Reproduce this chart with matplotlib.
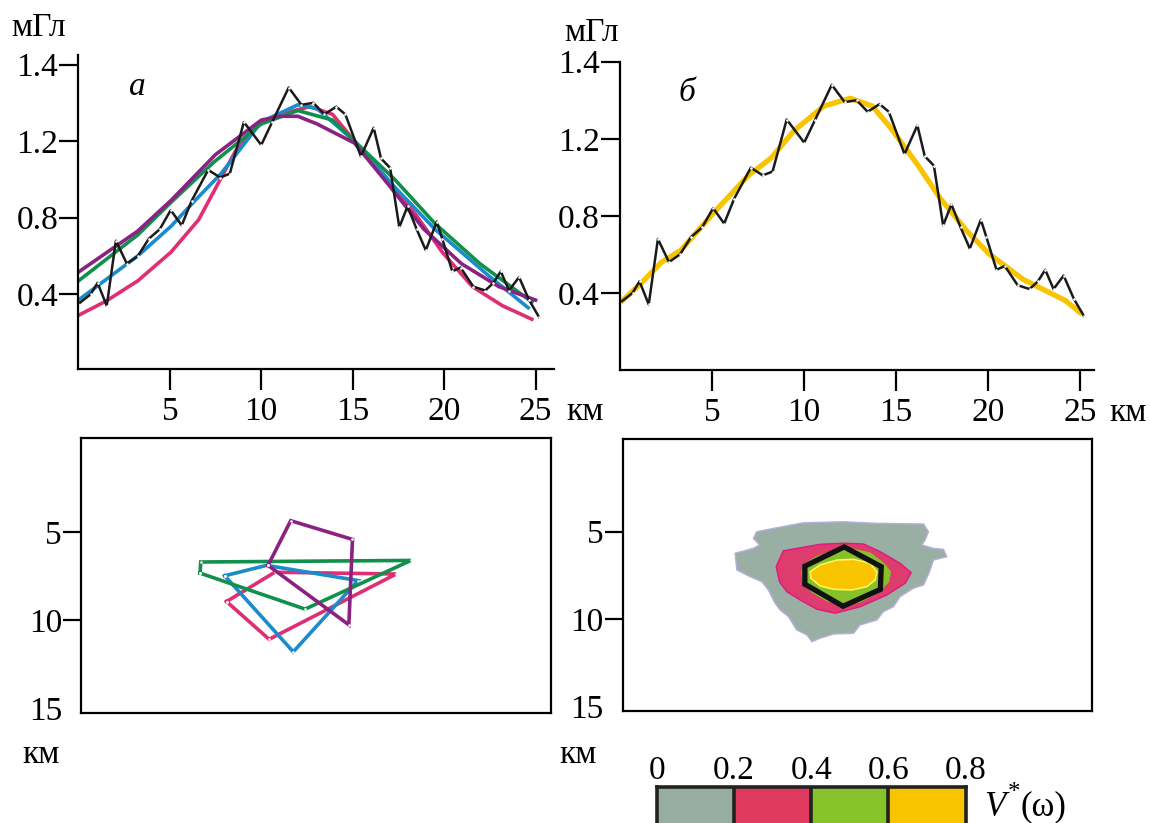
import numpy as np
import matplotlib
matplotlib.use('Agg')
import matplotlib.pyplot as plt

plt.rcParams['font.family'] = ['Liberation Serif', 'DejaVu Serif']

# observed gravity profile (same in both panels), mGal
obs_x = [0, 0.67, 1.05, 1.55, 2.05, 2.65, 3.25, 3.85, 4.45, 5.05, 5.65, 6.2, 7.1, 7.75,
         8.28, 9.05, 10.0, 10.6, 11.5, 12.2, 12.85, 13.45, 14.1, 14.6, 15.45, 16.15, 16.55,
         17.05, 17.55, 18.0, 18.5, 19.0, 19.6, 19.9, 20.45, 20.9, 21.6, 22.25, 22.7, 23.1,
         23.55, 24.1, 24.65, 25.2]
obs_y = [0.35, 0.40, 0.46, 0.34, 0.68, 0.56, 0.60, 0.69, 0.74, 0.84, 0.76, 0.89, 1.05, 1.01,
         1.03, 1.30, 1.18, 1.30, 1.48, 1.39, 1.40, 1.34, 1.38, 1.34, 1.12, 1.27, 1.11,
         1.06, 0.75, 0.86, 0.74, 0.63, 0.78, 0.69, 0.52, 0.54, 0.44, 0.42, 0.46, 0.52,
         0.42, 0.49, 0.37, 0.28]

# model fields, panel a
pink_x = [0, 1.52, 3.24, 5.06, 6.58, 8.6, 9.8, 11.0, 12.65, 13.9, 15.1, 16.9, 18.5, 19.9, 21.55, 23.2, 24.8]
pink_y = [0.29, 0.365, 0.47, 0.62, 0.79, 1.15, 1.28, 1.34, 1.38, 1.34, 1.20, 1.0, 0.81, 0.62, 0.44, 0.34, 0.27]
blue_x = [0, 3.24, 5.06, 6.58, 7.8, 10.0, 12.0, 13.05, 15.1, 17.3, 19.5, 22.4, 24.6]
blue_y = [0.37, 0.60, 0.755, 0.91, 1.03, 1.30, 1.39, 1.37, 1.20, 0.96, 0.74, 0.50, 0.33]
green_x = [0, 3.24, 5.06, 7.4, 10.0, 12.0, 13.9, 15.1, 17.3, 19.5, 21.96, 24.8]
green_y = [0.47, 0.71, 0.88, 1.09, 1.29, 1.36, 1.31, 1.20, 1.0, 0.77, 0.56, 0.36]
purple_x = [0, 3.24, 5.06, 7.5, 10.0, 11.0, 12.0, 13.05, 15.1, 16.9, 18.9, 20.95, 23.0, 25.0]
purple_y = [0.516, 0.73, 0.89, 1.13, 1.31, 1.33, 1.33, 1.29, 1.19, 0.98, 0.74, 0.56, 0.44, 0.37]

# averaged field, panel b
yel_x = [0, 1.13, 2.25, 3.28, 5.12, 6.97, 8.2, 9.43, 11.07, 12.5, 13.7, 14.75, 16.2, 17.4,
         18.85, 20.08, 21.9, 24.2, 25.1]
yel_y = [0.35, 0.45, 0.56, 0.62, 0.82, 1.01, 1.10, 1.24, 1.37, 1.41, 1.37, 1.25, 1.06, 0.89,
         0.72, 0.60, 0.47, 0.36, 0.29]

# body cross-sections (x km, depth km)
pink_poly = [(7.99, 8.95), (10.63, 7.29), (17.27, 7.39), (10.32, 11.09)]
blue_poly = [(7.89, 7.49), (10.18, 6.9), (15.18, 7.76), (11.64, 11.8)]
green_poly = [(6.54, 7.34), (6.58, 6.71), (18.08, 6.62), (12.29, 9.38)]
purple_poly = [(10.26, 6.9), (11.5, 4.37), (14.88, 5.43), (14.68, 10.27)]

# V*(w) levels
lev0 = [(6.19, 6.23), (7.19, 5.95), (7.52, 5.76), (7.19, 5.38), (7.37, 5.0), (8.28, 4.81),
        (9.91, 4.49), (12.09, 4.43), (13.91, 4.52), (16.45, 4.56), (16.72, 5.0), (16.54, 5.47),
        (16.36, 5.76), (16.99, 5.95), (17.54, 6.01), (17.72, 6.43), (16.99, 6.62), (16.78, 7.29),
        (16.45, 8.05), (15.9, 8.23), (15.18, 8.71), (14.81, 9.29), (14.27, 9.57), (13.91, 10.05),
        (13.0, 10.33), (12.64, 10.81), (11.55, 10.85), (10.82, 11.09), (10.37, 11.29), (10.1, 10.9),
        (9.55, 10.62), (9.1, 9.86), (8.64, 9.47), (8.37, 9.09), (8.0, 8.33), (7.65, 7.86),
        (7.01, 7.57), (6.29, 7.19)]
lev1 = [(8.82, 6.09), (10.82, 5.72), (12.09, 5.66), (13.18, 5.70), (14.09, 6.14), (15.18, 6.81),
        (15.78, 7.34), (15.45, 7.95), (14.45, 8.62), (13.0, 9.29), (11.64, 9.66), (10.64, 9.43),
        (9.73, 8.9), (9.01, 8.43), (8.61, 7.86), (8.43, 7.0)]
lev2 = [(9.91, 6.9), (10.64, 6.43), (11.55, 6.14), (12.64, 6.01), (13.55, 6.23), (14.27, 6.81),
        (14.64, 7.29), (14.54, 7.86), (13.91, 8.52), (13.0, 9.0), (12.09, 9.19), (11.19, 8.94),
        (10.37, 8.43), (9.91, 7.86), (9.83, 7.38)]
lev3 = [(10.28, 7.29), (10.82, 6.9), (11.73, 6.62), (12.64, 6.58), (13.55, 6.81), (13.91, 7.29),
        (13.82, 7.76), (13.37, 8.14), (12.55, 8.33), (11.55, 8.29), (10.82, 8.1), (10.32, 7.66)]
hexagon = [(12.13, 5.87), (14.15, 7.0), (14.1, 8.3), (12.07, 9.26), (9.99, 8.0), (9.99, 6.97)]

cbar_bounds = [0, 0.2, 0.4, 0.6, 0.8]
cbar_colors = ['#98ADA2', '#DE3A60', '#86C22A', '#F8C400']

FS = 24
W, H = 1150, 823
PT = 0.72  # points per pixel at dpi 100


def box(l, t, r, b):
    return [l / W, 1 - b / H, (r - l) / W, (b - t) / H]


def profile_axes(rect, ylim):
    ax = fig.add_axes(rect)
    ax.set_xlim(0, 26)
    ax.set_ylim(*ylim)
    for s in ['top', 'right']:
        ax.spines[s].set_visible(False)
    for s in ['left', 'bottom']:
        ax.spines[s].set_linewidth(1.6)
    ax.set_xticks([5, 10, 15, 20, 25])
    ax.set_yticks([0.4, 0.8, 1.2, 1.6])
    ax.set_yticklabels(['0.4', '0.8', '1.2', '1.4'])
    ax.tick_params(direction='out', length=19 * PT, width=1.6, labelsize=FS, pad=1)
    ax.tick_params(axis='x', length=21 * PT, pad=5)
    return ax


def section_axes(rect, ticklen):
    ax = fig.add_axes(rect)
    ax.set_xlim(0.05, 25.75)
    ax.set_ylim(15.25, -0.3)
    for s in ax.spines.values():
        s.set_linewidth(1.6)
    ax.set_xticks([])
    ax.set_yticks([5, 10, 15])
    ax.tick_params(axis='y', direction='out', length=ticklen * PT, width=1.6,
                   labelsize=FS, pad=1)
    ax.yaxis.get_major_ticks()[2].tick1line.set_visible(False)
    return ax


fig = plt.figure(figsize=(W / 100, H / 100), dpi=100)

# panel a, profiles
ax1 = profile_axes(box(78.4, 55, 553.8, 369), (0.01, 1.65))
ax1.plot(pink_x, pink_y, color='#DF2E74', lw=2.6)
ax1.plot(blue_x, blue_y, color='#1B8BCB', lw=2.6)
ax1.plot(green_x, green_y, color='#10904A', lw=2.6)
ax1.plot(purple_x, purple_y, color='#8B2281', lw=2.6)
ax1.plot(obs_x, obs_y, color='#1a1a1a', lw=1.8, marker='o', ms=0.9,
         mfc='white', mec='white')
ax1.text(0.125, 0.9, 'а', transform=ax1.transAxes, fontsize=FS, style='italic',
         ha='center', va='center')

# panel b, profiles
ax2 = profile_axes(box(620.2, 61.7, 1094.2, 370), (0.0, 1.6))
ax2.set_xlim(0, 25.76)
ax2.plot(yel_x, yel_y, color='#F8C400', lw=3.8, solid_capstyle='butt')
ax2.plot(obs_x, obs_y, color='#1a1a1a', lw=1.8, marker='o', ms=0.9,
         mfc='white', mec='white')
ax2.text(0.14, 0.9, 'б', transform=ax2.transAxes, fontsize=FS, style='italic',
         ha='center', va='center')

# panel a, sections
ax3 = section_axes(box(81.4, 438.3, 551.2, 712.7), 18)
for poly, col in [(pink_poly, '#DF2E74'), (blue_poly, '#1B8BCB'),
                  (green_poly, '#10904A'), (purple_poly, '#8B2281')]:
    px = [p[0] for p in poly] + [poly[0][0]]
    py = [p[1] for p in poly] + [poly[0][1]]
    ax3.plot(px, py, color=col, lw=2.6, solid_joinstyle='miter',
             marker='o', ms=0.9, mfc='white', mec='white')

# panel b, V*(w) map
ax4 = section_axes(box(622.8, 439, 1091.6, 711), 18)
ax4.set_xlim(0.08, 25.6)
ax4.add_patch(plt.Polygon(lev0, closed=True, fc='#9AAFA4', ec='#B7AEDA', lw=1))
ax4.add_patch(plt.Polygon(lev1, closed=True, fc='#DE3C6C', ec='#E0177F', lw=1))
ax4.add_patch(plt.Polygon(lev2, closed=True, fc='#86C12A', ec='#86C12A', lw=1))
ax4.add_patch(plt.Polygon(lev3, closed=True, fc='#F8C400', ec='#FFF35A', lw=1.2))
ax4.add_patch(plt.Polygon(hexagon, closed=True, fc='none', ec='#111111', lw=3.8,
                          joinstyle='miter'))

# colour scale
axc = fig.add_axes(box(656.7, 787.3, 965.7, 830))
for i, c in enumerate(cbar_colors):
    axc.axvspan(cbar_bounds[i], cbar_bounds[i + 1], color=c, lw=0)
for b in cbar_bounds[1:-1]:
    axc.axvline(b, color='#222222', lw=2.6)
axc.set_xlim(0, 0.8)
axc.set_ylim(0, 1)
axc.set_xticks([])
axc.set_yticks([])
for s in axc.spines.values():
    s.set_linewidth(2.6)
    s.set_color('#222222')
axc.spines['bottom'].set_visible(False)
for b in cbar_bounds:
    axc.text(b, 1.02, '0' if b == 0 else f'{b:.1f}', transform=axc.transData,
             fontsize=FS, ha='center', va='bottom')
fig.text(984 / W, 1 - 807 / H, 'V', fontsize=FS + 1, style='italic', ha='left', va='center')
fig.text(1008 / W, 1 - 793 / H, '*', fontsize=FS - 6, ha='left', va='center')
fig.text(1021 / W, 1 - 807 / H, '(ω)', fontsize=FS + 1, ha='left', va='center')

# units
fig.text(39 / W, 1 - 28 / H, 'мГл', fontsize=FS, ha='center', va='center')
fig.text(592 / W, 1 - 33 / H, 'мГл', fontsize=FS, ha='center', va='center')
fig.text(585 / W, 1 - 412 / H, 'км', fontsize=FS, ha='center', va='center')
fig.text(1128 / W, 1 - 413 / H, 'км', fontsize=FS, ha='center', va='center')
fig.text(41 / W, 1 - 755 / H, 'км', fontsize=FS, ha='center', va='center')
fig.text(578 / W, 1 - 755 / H, 'км', fontsize=FS, ha='center', va='center')

fig.savefig('out.png', dpi=100)
